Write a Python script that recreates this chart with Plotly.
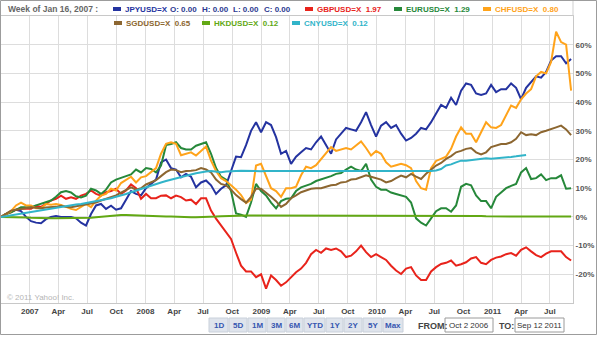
import pandas as pd
import plotly.graph_objects as go

# ---------------- data (percent change since Oct 2 2006) ----------------
N = 115
dates = pd.date_range("2006-10-02", "2011-09-06", periods=N)

jpy = [0, 1, 2, 2.5, 2, 0, -1.5, -2, -2.2, -0.8,
       0, 0.3, 0, 0, 0, -0.5, -2, -3, 1, 4,
       4.5, 2.8, 3.9, 2.5, 3, 6, 9, 8, 7.5, 10,
       11.5, 13, 19, 20, 17, 16.5, 13.8, 15, 14, 10.3,
       12, 12.7, 11, 8, 9.8, 11, 16, 21, 20.8, 25,
       30, 33, 29.5, 33, 32, 27.8, 22, 23, 18.5, 21,
       22.5, 24, 23.5, 26, 28, 25, 22, 27, 29, 31,
       30.5, 30, 33, 36.5, 32, 28, 31.8, 33, 31, 32,
       29, 26.6, 27.5, 29, 31, 30.5, 33, 36, 39, 38,
       41.5, 39, 44, 46.5, 46, 43, 42.5, 43, 46, 43.5,
       44.5, 44.5, 46.5, 45, 41, 45, 47, 49, 48.5, 50.5,
       54.5, 56, 56, 53.5, 55]

gbp = [0, 1, 1.6, 2.5, 2.8, 2.8, 2.8, 3.9, 3.5, 4.5,
       5.7, 6.3, 7.4, 6.3, 6.8, 6.3, 7.4, 8, 9.2, 8,
       7.4, 8.6, 9, 9.8, 8, 9.2, 11.3, 10, 6.3, 8,
       6.5, 6.5, 7.4, 7.5, 6.5, 7.4, 6.9, 5.7, 6, 4.5,
       6.5, 6.5, 2.2, -0.6, -3, -5, -7.7, -12.5, -17, -19,
       -19, -21, -20, -25, -20.4, -22, -24, -22.8, -21, -19.3,
       -18, -16, -13, -11.5, -12.5, -11, -11.5, -11, -12, -14,
       -13.5, -12, -10, -12.3, -14, -13, -14, -15, -17, -18.7,
       -19.9, -18, -17.5, -20.4, -22, -22, -19, -17.5, -16.4, -16,
       -15.2, -17, -16.5, -15.8, -14.5, -14, -16, -16.5, -15, -14.2,
       -13.8, -13, -12.6, -13.5, -11.5, -10.6, -12, -13.3, -14, -12.8,
       -12, -12, -12, -14, -15.2]

eur = [0, 1, 1.6, 2.5, 3.4, 3.4, 3.4, 4, 4.5, 5,
       5.7, 7, 8.6, 9, 8.5, 7.2, 6.8, 7.4, 9.8, 9.2,
       8, 9.5, 12, 13, 13.5, 14.2, 14.8, 16.5, 15.5, 17,
       16.7, 15.5, 17.9, 25, 25.4, 26, 24, 23.5, 23.5, 24.8,
       25.4, 26, 22, 17, 14, 13, 9, 1.2, 0.8, 0,
       5, 11.5, 9, 7.5, 5, 3, 5.5, 6.3, 6.5, 9,
       10.3, 11, 11.5, 12.5, 13, 13.5, 14.2, 15, 15.3, 16.5,
       17.5, 16.5, 16, 18.5, 13, 10.5, 9.5, 9.5, 8.5, 8,
       7.5, 7, 5, -0.5, -2, -3, -0.5, 2, 3, 3,
       1.8, 4, 10.5, 11.5, 11, 7.5, 5.5, 5.5, 3, 7,
       8.5, 10, 10.8, 11.5, 15.5, 17, 13.2, 13.5, 14.8, 12.8,
       13.5, 13.5, 14.5, 9.8, 10]

chf = [0, 1, 2, 4, 5, 4, 4, 3, 3, 4.5,
       4.2, 4.5, 4.2, 3.5, 2.8, 2.4, 3.5, 4.5, 3.4, 5.7,
       7.4, 8, 9.8, 9.2, 11.8, 12.8, 14, 12, 13.8, 14.2,
       15.5, 17, 22, 25.5, 26, 25.5, 21.5, 22, 22.5, 21.4,
       23, 24.5, 19.6, 16, 13.5, 12.5, 11, 9.5, 7.6, 4.8,
       6, 17.9, 18.5, 14, 10, 9, 7, 10, 10, 10.5,
       14.5, 17.5, 17, 18, 20.2, 22.5, 24.3, 23, 23.5, 24,
       23.5, 25, 26.3, 24, 21.4, 23, 22, 19, 17.5, 18,
       18.5, 18, 17, 12.5, 10, 9.5, 17, 19.5, 20.2, 21,
       23.7, 28, 31.2, 29, 29, 26, 29.5, 33, 31.2, 31,
       32, 35.5, 38.8, 38, 41, 43, 44.5, 49, 50.5, 50,
       54, 64.5, 60.9, 60, 44]

sgd = [0, 1, 2.2, 2.5, 2.8, 3, 3.4, 3.2, 3, 3.3,
       3.4, 3.5, 3.9, 3.5, 3.4, 3.7, 3.9, 4.2, 4.5, 5,
       5.7, 6.3, 6.9, 7.5, 8.5, 9.4, 10.3, 9.5, 10, 11.3,
       12, 12.8, 14.2, 15.6, 16.5, 16.3, 15.6, 16, 16.1, 16.3,
       17, 16.5, 15.5, 13, 11.5, 11, 9.5, 7.6, 6.2, 5,
       7, 9.8, 9.8, 8.5, 7, 5.5, 3.5, 4.5, 6.5, 7.5,
       8.6, 9.2, 9.8, 10, 10, 10.5, 11, 11.2, 12, 12.2,
       13, 13.2, 13.8, 14.5, 14, 13.5, 13, 12, 12.5, 13.5,
       14.4, 13.8, 15, 14, 13.2, 15, 16.5, 17.9, 18.8, 20.2,
       21.2, 22.5, 23, 23.7, 24, 22.5, 21.8, 22.5, 24.3, 24.8,
       25.4, 25.4, 26, 27.2, 29.5, 28.5, 28.8, 28.5, 29.5, 30,
       30.5, 31.2, 31.8, 30.5, 28.5]

hkd = [0, 0, -0.1, -0.1, -0.2, -0.2, -0.3, -0.4, -0.4, -0.5,
       -0.5, -0.5, -0.5, -0.5, -0.5, -0.5, -0.5, -0.4, -0.3, -0.1,
       0.1, 0.3, 0.5, 0.6, 0.7, 0.7, 0.6, 0.5, 0.4, 0.3,
       0.2, 0.2, 0.1, 0.1, 0.1, 0, 0, -0.1, -0.1, -0.1,
       -0.1, -0.1, 0, 0.1, 0.2, 0.3, 0.4, 0.5, 0.5, 0.5,
       0.5, 0.5, 0.5, 0.5, 0.5, 0.5, 0.5, 0.5, 0.5, 0.5,
       0.5, 0.5, 0.5, 0.5, 0.5, 0.5, 0.5, 0.5, 0.5, 0.5,
       0.5, 0.5, 0.5, 0.5, 0.5, 0.5, 0.5, 0.5, 0.5, 0.5,
       0.5, 0.5, 0.5, 0.5, 0.5, 0.5, 0.5, 0.5, 0.5, 0.5,
       0.5, 0.5, 0.5, 0.5, 0.5, 0.4, 0.3, 0.2, 0.2, 0.1,
       0.1, 0.1, 0.2, 0.2, 0.1, 0.1, 0.1, 0.1, 0.1, 0.1,
       0.1, 0.1, 0.1, 0.1, 0.1]

cny = [0, 0.3, 0.5, 0.8, 1, 1.3, 1.6, 1.9, 2.2, 2.5,
       2.8, 3.1, 3.4, 3.7, 4, 4.3, 4.5, 4.8, 5.1, 5.4,
       5.7, 6.1, 6.5, 7, 7.4, 8, 8.6, 9.2, 9.8, 10.4,
       11, 11.5, 12, 12.5, 13, 13.5, 14, 14.4, 14.8, 15.2,
       15.6, 15.8, 16, 15.8, 15.6, 15.8, 16, 16, 16.1, 16,
       16, 16, 15.9, 16, 16, 16.1, 16, 16, 15.9, 16,
       16, 16, 16, 15.9, 16, 16, 16, 16.1, 16, 16,
       16, 15.9, 16, 16, 16, 16, 15.9, 16, 16, 16,
       16, 16, 15.9, 16, 16, 16, 16, 16.2, 16.7, 17.9,
       18.3, 19, 19.6, 19.6, 19.8, 20.2, 20.2, 20.4, 20.3, 20.4,
       20.5, 20.7, 20.9, 21.1, 21.4, 21.6]

series_names = ["JPYUSD=X", "GBPUSD=X", "EURUSD=X", "CHFUSD=X", "SGDUSD=X", "HKDUSD=X", "CNYUSD=X"]
series_vals = [jpy, gbp, eur, chf, sgd, hkd, cny]
series_colors = ["#2433a0", "#e8231b", "#26883a", "#ffa31a", "#8c6630", "#62a814", "#31b4c9"]
legend_values = ["", "1.97", "1.29", "0.80", "0.65", "0.12", "0.12"]

tick_dates = ["2007-01-01", "2007-04-01", "2007-07-01", "2007-10-01",
              "2008-01-01", "2008-04-01", "2008-07-01", "2008-10-01",
              "2009-01-01", "2009-04-01", "2009-07-01", "2009-10-01",
              "2010-01-01", "2010-04-01", "2010-07-01", "2010-10-01",
              "2011-01-01", "2011-04-01", "2011-07-01"]
tick_text = ["2007", "Apr", "Jul", "Oct", "2008", "Apr", "Jul", "Oct",
             "2009", "Apr", "Jul", "Oct", "2010", "Apr", "Jul", "Oct",
             "2011", "Apr", "Jul"]
y_ticks = [-20, -10, 0, 10, 20, 30, 40, 50, 60]
y_text = [f"{v}%" for v in y_ticks]

buttons = ["1D", "5D", "1M", "3M", "6M", "YTD", "1Y", "2Y", "5Y", "Max"]

# ---------------- figure ----------------
W, H = 600, 337
ML, MR, MT, MB = 1, 27, 16, 34
PW, PH = W - ML - MR, H - MT - MB
FONT = "Liberation Sans, Arial, sans-serif"


def px(x):
    return (x - ML) / PW


def py(y):
    return (H - MB - y) / PH


fig = go.Figure()
for name, vals, col in zip(series_names, series_vals, series_colors):
    fig.add_trace(go.Scatter(x=dates[:len(vals)], y=vals, mode="lines", name=name,
                             line=dict(color=col, width=2), hoverinfo="skip"))

shapes = []
annots = []


def rect(x0, y0, x1, y1, fill, line=None, lw=1):
    shapes.append(dict(type="rect", xref="paper", yref="paper",
                       x0=px(x0), x1=px(x1), y0=py(y1), y1=py(y0),
                       fillcolor=fill, line=dict(color=line or fill, width=lw if line else 0),
                       layer="above"))


def text(x, y, s, color, size=8, bold=True, anchor="left"):
    annots.append(dict(xref="paper", yref="paper", x=px(x), y=py(y), text=(f"<b>{s}</b>" if bold else s),
                       showarrow=False, xanchor=anchor, yanchor="middle",
                       font=dict(family=FONT, size=size, color=color)))


# header row 1
text(6, 9, "Week of Jan 16, 2007 :", "#666666", size=8.5)
row1 = [(113, 0), (305, 1), (394, 2), (483, 3)]
for sx, i in row1:
    rect(sx, 7, sx + 8, 11, series_colors[i])
    lab = series_names[i] + ("  " + legend_values[i] if legend_values[i] else "")
    text(sx + 10, 9.5, lab, series_colors[i])
for ox, lab in [(168, "O: 0.00"), (200, "H: 0.00"), (231, "L: 0.00"), (262, "C: 0.00")]:
    text(ox, 9.5, lab, "#2b3990")
# header row 2
row2 = [(114, 4), (202, 5), (292, 6)]
for sx, i in row2:
    rect(sx, 21, sx + 8, 25, series_colors[i])
    text(sx + 10, 23.5, series_names[i] + "  " + legend_values[i], series_colors[i])

# copyright
text(5, 297, "© 2011 Yahoo! Inc.", "#b5b5b5", bold=False)

# range buttons
bx = [209, 229, 248, 267, 286, 304, 326, 344, 363, 383, 404]
for i, b in enumerate(buttons):
    rect(bx[i], 318, bx[i + 1] - 1, 332, "#dfe4ec", "#c9d0da")
    text((bx[i] + bx[i + 1] - 1) / 2, 325.5, b, "#3656b0", anchor="center")

text(416, 325.5, "FROM:", "#444444", size=9)
rect(445, 318, 493, 332, "#ffffff", "#9a9a9a")
text(469, 325.5, "Oct 2 2006", "#333333", bold=False, anchor="center")
text(497, 325.5, "TO:", "#444444", size=9)
rect(515, 318, 564, 332, "#ffffff", "#9a9a9a")
text(539.5, 325.5, "Sep 12 2011", "#333333", bold=False, anchor="center")

# header box right edge (continuation of plot frame)
shapes.append(dict(type="line", xref="paper", yref="paper", x0=1, x1=1,
                   y0=1, y1=py(0.5), line=dict(color="#cfcfcf", width=1)))

# outer frame
shapes.append(dict(type="rect", xref="paper", yref="paper", x0=px(0.5), x1=px(596.5),
                   y0=py(334.5), y1=py(0.5), line=dict(color="#9c9c9c", width=1),
                   fillcolor="rgba(0,0,0,0)", layer="above"))

fig.update_layout(
    width=W, height=H, autosize=False,
    margin=dict(l=ML, r=MR, t=MT, b=MB, pad=0),
    paper_bgcolor="white", plot_bgcolor="white",
    showlegend=False,
    shapes=shapes, annotations=annots,
    xaxis=dict(type="date", range=["2006-10-02", "2011-09-12"],
               tickmode="array", tickvals=tick_dates, ticktext=tick_text,
               showgrid=True, gridcolor="#dddddd", gridwidth=1,
               showline=True, linecolor="#c8c8c8", mirror=True, ticks="",
               zeroline=False,
               tickfont=dict(family=FONT, size=8, color="#444444", weight="bold")),
    yaxis=dict(range=[-30, 70], side="right", tickmode="array",
               tickvals=y_ticks, ticktext=y_text,
               showgrid=True, gridcolor="#dddddd", gridwidth=1,
               showline=True, linecolor="#c8c8c8", mirror=True, ticks="",
               zeroline=False,
               tickfont=dict(family=FONT, size=8, color="#555555", weight="bold")),
)

fig.write_html("out.html")
